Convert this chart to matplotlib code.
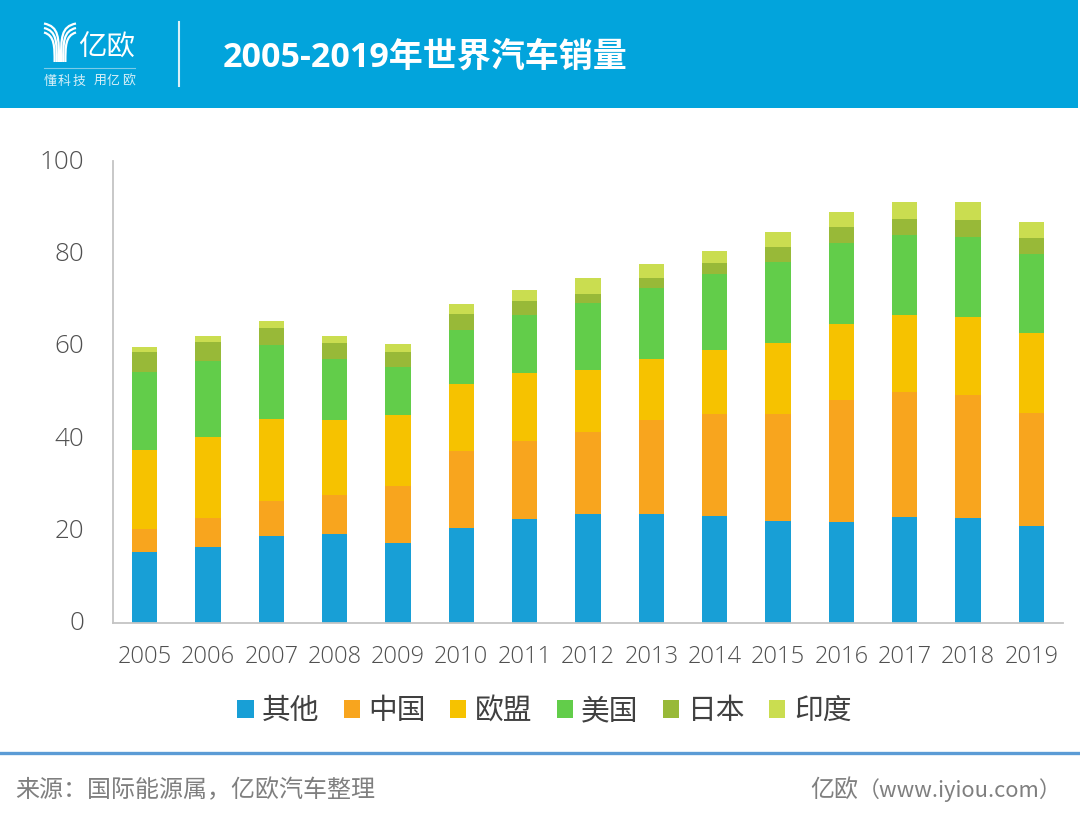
import numpy as np
import matplotlib
matplotlib.use("Agg")
import matplotlib.pyplot as plt
from matplotlib.patches import Rectangle, PathPatch
from matplotlib.path import Path
from matplotlib.transforms import ScaledTranslation

plt.rcParams['font.family'] = ['Open Sans', 'Noto Sans CJK SC', 'DejaVu Sans']

#data, in millions
years = ['2005', '2006', '2007', '2008', '2009', '2010', '2011', '2012',
         '2013', '2014', '2015', '2016', '2017', '2018', '2019']
other = [15.4, 16.5, 18.8, 19.3, 17.2, 20.5, 22.4, 23.6, 23.6, 23.2, 22.1, 21.9, 22.9, 22.6, 21.0]
china = [4.9, 6.2, 7.5, 8.3, 12.5, 16.6, 16.9, 17.8, 20.3, 22.0, 23.2, 26.4, 27.0, 26.8, 24.5]
eu = [17.1, 17.5, 17.8, 16.3, 15.3, 14.6, 14.7, 13.3, 13.2, 13.8, 15.2, 16.4, 16.7, 16.8, 17.3]
usa = [17.0, 16.5, 16.0, 13.2, 10.4, 11.7, 12.7, 14.6, 15.5, 16.6, 17.6, 17.5, 17.3, 17.4, 17.1]
japan = [4.3, 4.1, 3.8, 3.5, 3.3, 3.5, 3.0, 1.9, 2.1, 2.2, 3.3, 3.5, 3.5, 3.6, 3.4]
india = [1.1, 1.3, 1.4, 1.4, 1.6, 2.1, 2.4, 3.4, 2.9, 2.8, 3.2, 3.3, 3.7, 3.9, 3.4]

series = [other, china, eu, usa, japan, india]
names = ['其他', '中国', '欧盟', '美国', '日本', '印度']
colors = ['#189FD6', '#F8A51E', '#F6C200', '#62CD4A', '#98B938', '#CADD50']

W, H = 1080, 823
fig = plt.figure(figsize=(W / 100, H / 100), dpi=100, facecolor='white')

#chart
ax = fig.add_axes([113 / W, 1 - 622.7 / H, 950 / W, 461.7 / H])
x = np.arange(len(years))
bottom = np.zeros(len(years))
for vals, name, c in zip(series, names, colors):
    ax.bar(x, vals, 0.4, bottom=bottom, color=c, label=name, zorder=2)
    bottom += np.array(vals)

ax.set_xlim(-0.5, 14.5)
ax.set_ylim(0, 100)
ax.set_xticks(x, years)
ax.set_yticks(range(0, 101, 20))
ax.tick_params(axis='x', length=0, pad=16, labelsize=17, labelcolor='#505050')
ax.tick_params(axis='y', length=0, pad=20.5, labelsize=18.7, labelcolor='#505050')
for lab in ax.get_xticklabels() + ax.get_yticklabels():
    lab.set_fontweight('light')
#y labels sit a little higher than the ticks
for lab in ax.get_yticklabels():
    lab.set_transform(lab.get_transform() + ScaledTranslation(0, 2 / 100, fig.dpi_scale_trans))
ax.spines['top'].set_visible(False)
ax.spines['right'].set_visible(False)
ax.spines['left'].set_color('#C4C4C4')
ax.spines['bottom'].set_color('#C4C4C4')
ax.spines['left'].set_linewidth(1.3)
ax.spines['bottom'].set_linewidth(1.3)

fig.legend(loc='center', bbox_to_anchor=(544.5 / W, 1 - 711 / H), ncol=6, frameon=False,
           prop={'family': ['Noto Sans CJK SC', 'DejaVu Sans'], 'size': 20.7, 'weight': 'light'},
           labelcolor='#404040', handlelength=0.56, handleheight=0.56,
           handletextpad=0.3, columnspacing=0.84)

#header and footer in pixel coords
bg = fig.add_axes([0, 0, 1, 1], zorder=-1)
bg.set_xlim(0, W)
bg.set_ylim(H, 0)
bg.axis('off')
bg.add_patch(Rectangle((0, 0), W - 2, 108, color='#02A4DC', lw=0))
bg.plot([179, 179], [22, 86], color='#D8F0F8', lw=1.5)
bg.plot([44, 135], [68, 68], color='#7CCBE8', lw=0.8)
bg.plot([0, W - 2], [753, 753], color='#5B9BD5', lw=2.4)

#logo strands
for i in range(3):
    for side in (-1, 1):
        x0 = 60 + side * 16
        y0 = 23.5 + i * 4.5
        x1 = 60 + side * (1 + i * 2.2)
        p = Path([(x0, y0), (x1, y0 + 3), (x1, y0 + 14), (x1, 62)],
                 [Path.MOVETO, Path.CURVE4, Path.CURVE4, Path.CURVE4])
        bg.add_patch(PathPatch(p, fc='none', ec='white', lw=1.6))

cjk = ['Noto Sans CJK SC', 'DejaVu Sans']
bg.text(223, 58, '2005-2019年世界汽车销量', color='white', fontsize=24.5, fontweight='bold',
        family=['Open Sans', 'Noto Sans CJK SC'], va='center', ha='left')
bg.text(106.5, 48, '亿欧', color='white', fontsize=20.5, fontweight='light', family=cjk,
        va='center', ha='center')
for ch, cx in zip('懂科技用亿欧', [50, 64, 79, 100, 113, 129]):
    bg.text(cx, 81, ch, color='#D8F0F8', fontsize=9.3, fontweight='light', family=cjk,
            va='center', ha='center')
bg.text(15, 790, '来源：国际能源属，亿欧汽车整理', color='#7F7F7F', fontsize=17.3, fontweight='light',
        family=cjk, va='center', ha='left')
bg.text(810, 790, '亿欧', color='#7F7F7F', fontsize=17.3, fontweight='light',
        family=cjk, va='center', ha='left')
bg.text(1062, 790, '（www.iyiou.com）', color='#7F7F7F', fontsize=15.8, fontweight='light',
        family=cjk, va='center', ha='right')

fig.savefig('out.png', dpi=100)
